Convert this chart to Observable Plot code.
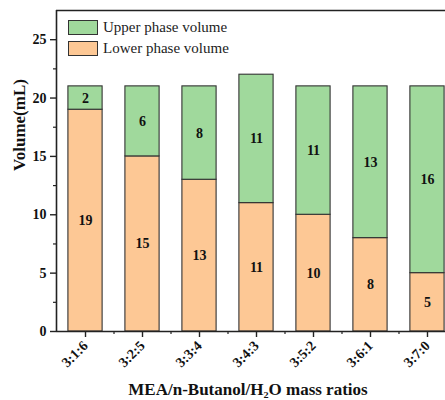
<!DOCTYPE html>
<html>
<head>
<meta charset="utf-8">
<script src="https://cdn.jsdelivr.net/npm/d3@7"></script>
<script src="https://cdn.jsdelivr.net/npm/@observablehq/plot@0.6"></script>
<style>
  html, body { margin: 0; padding: 0; background: #fff; overflow: hidden; }
  #wrap { position: relative; width: 445px; height: 400px; font-family: "Liberation Serif", "Times New Roman", serif; }
  #legend { position: absolute; left: 68px; top: 20px; font-size: 15px; color: #222; }
  .item { display: flex; align-items: center; height: 15px; margin-bottom: 6px; }
  .sw { width: 30px; height: 15px; border: 1px solid #333; margin-right: 5px; box-sizing: border-box; }
  #xtitle { position: absolute; left: 0; top: 380px; width: 496px; text-align: center; font-size: 17px; font-weight: bold; line-height: 20px; color: #111; }
</style>
</head>
<body>
<div id="wrap"><div id="legend"></div><div id="xtitle"></div></div>
<script>
const ratios = ["3:1:6", "3:2:5", "3:3:4", "3:4:3", "3:5:2", "3:6:1", "3:7:0"];
const lowerPhase = [19, 15, 13, 11, 10, 8, 5];
const upperPhase = [2, 6, 8, 11, 11, 13, 16];
const phaseNames = ["Upper phase volume", "Lower phase volume"];
const phaseColors = ["#a0d99c", "#fdc895"];
const yMajorTicks = [0, 5, 10, 15, 20, 25];
const yMinorTicks = [2.5, 7.5, 12.5, 17.5, 22.5];
const yTitle = "Volume(mL)";
const xTitle = "MEA/n-Butanol/H\u2082O mass ratios";

const serif = "'Liberation Serif', 'Times New Roman', serif";
const idx = ratios.map((_, i) => i);
const rows = ratios.flatMap((r, i) => [
  {i, ratio: r, phase: phaseNames[1], v: lowerPhase[i], y1: 0, y2: lowerPhase[i]},
  {i, ratio: r, phase: phaseNames[0], v: upperPhase[i], y1: lowerPhase[i], y2: lowerPhase[i] + upperPhase[i]}
]);
const xDomain = [-0.509, 6.316];
const yDomain = [0, 27.5];
const half = 0.3;

const plot = Plot.plot({
  width: 445,
  height: 400,
  marginLeft: 56,
  marginRight: 0,
  marginTop: 10,
  marginBottom: 69,
  style: {fontFamily: serif, background: "white", overflow: "visible"},
  x: {type: "linear", domain: xDomain, axis: null},
  y: {domain: yDomain, axis: null},
  color: {domain: phaseNames, range: phaseColors},
  marks: [
    Plot.rect(rows, {x1: d => d.i - half, x2: d => d.i + half, y1: "y1", y2: "y2", fill: "phase", stroke: "#333", strokeWidth: 1.1}),
    Plot.text(rows, {x: "i", y: d => (d.y1 + d.y2) / 2, text: "v", fontWeight: "bold", fontSize: 14, fill: "#111", fontFamily: serif}),
    Plot.ruleY([yDomain[0]], {stroke: "#222", strokeWidth: 1.6}),
    Plot.ruleY([yDomain[1]], {stroke: "#222", strokeWidth: 1.6}),
    Plot.ruleX([xDomain[0]], {stroke: "#222", strokeWidth: 1.6}),
    Plot.axisY({ticks: yMajorTicks, tickSize: 6, tickPadding: 4, fontSize: 14, fontWeight: "bold", fontFamily: serif, label: null, stroke: "#222", strokeWidth: 1.4, color: "#111"}),
    Plot.axisY({ticks: yMinorTicks, tickSize: 3, text: null, label: null, stroke: "#222", strokeWidth: 1.2}),
    Plot.axisX({ticks: idx, tickFormat: i => ratios[i], tickSize: 6, tickPadding: 6, tickRotate: -45, fontSize: 14, fontWeight: "bold", fontFamily: serif, label: null, stroke: "#222", strokeWidth: 1.4, color: "#111"}),
    Plot.axisX({ticks: idx.map(i => i + 0.5), tickSize: 3, text: null, label: null, stroke: "#222", strokeWidth: 1.2}),
    Plot.text([yTitle], {text: d => d, frameAnchor: "left", rotate: -90, dx: -37, fontSize: 17, fontWeight: "bold", fill: "#111", fontFamily: serif})
  ]
});
document.getElementById("wrap").prepend(plot);
document.getElementById("xtitle").textContent = xTitle;

const legend = document.getElementById("legend");
phaseNames.forEach((name, k) => {
  const item = document.createElement("div");
  item.className = "item";
  const sw = document.createElement("div");
  sw.className = "sw";
  sw.style.background = phaseColors[k];
  const label = document.createElement("span");
  label.textContent = name;
  item.append(sw, label);
  legend.append(item);
});
</script>
</body>
</html>
